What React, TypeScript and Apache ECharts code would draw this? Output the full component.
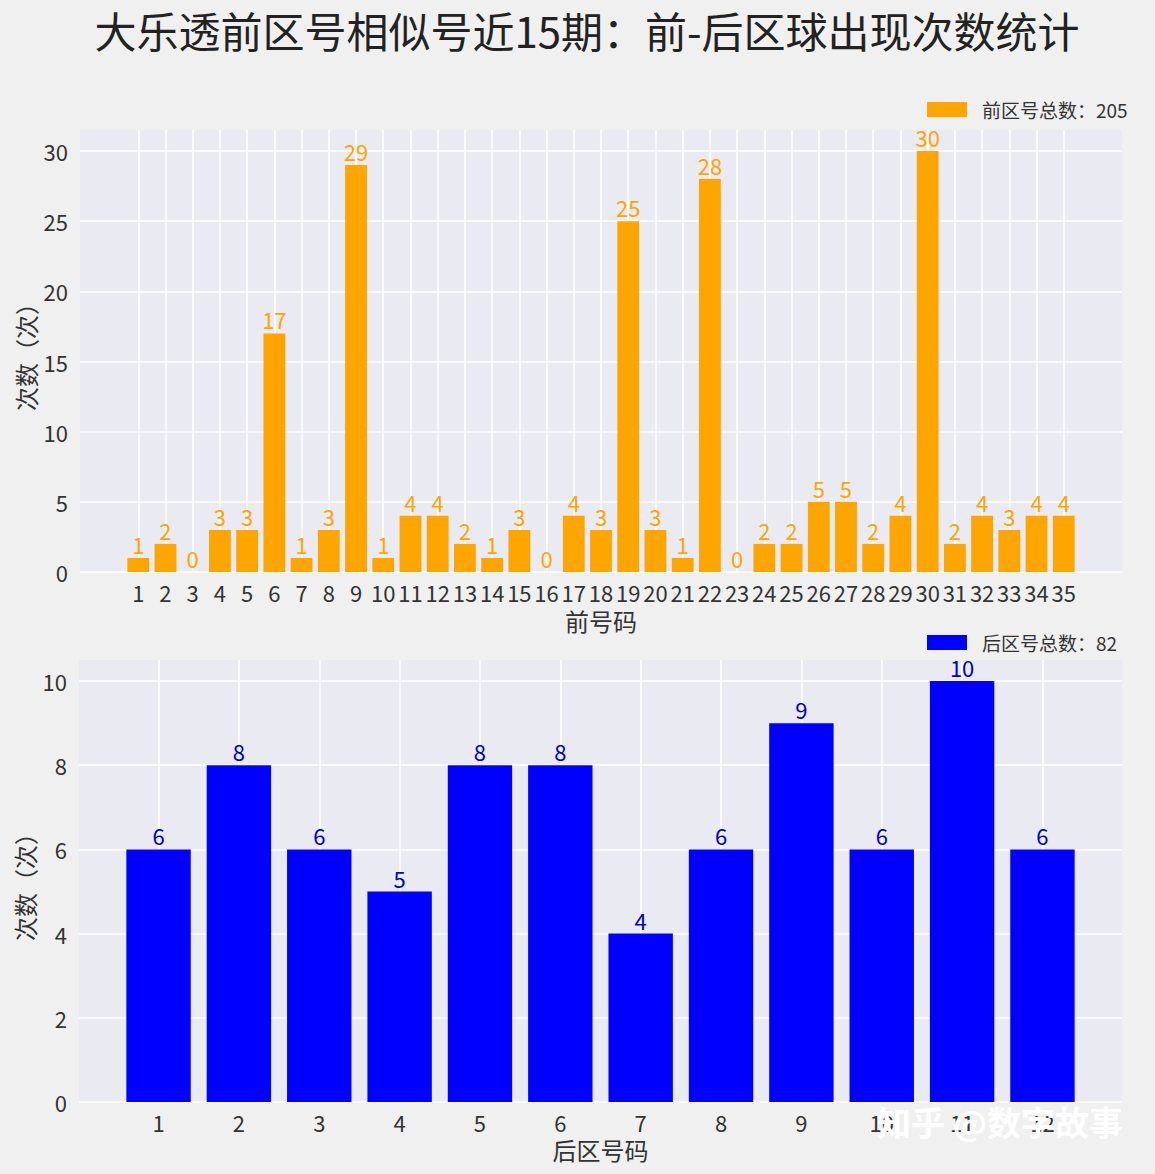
import React, { useEffect, useRef } from "react";
import * as echarts from "echarts";

const frontNumbers = Array.from({ length: 35 }, (_, i) => i + 1);
const frontCounts = [1, 2, 0, 3, 3, 17, 1, 3, 29, 1, 4, 4, 2, 1, 3, 0, 4, 3, 25, 3, 1, 28, 0, 2, 2, 5, 5, 2, 4, 30, 2, 4, 3, 4, 4];
const backNumbers = Array.from({ length: 12 }, (_, i) => i + 1);
const backCounts = [6, 8, 6, 5, 8, 8, 4, 6, 9, 6, 10, 6];
const frontYTicks = [0, 5, 10, 15, 20, 25, 30];
const backYTicks = [0, 2, 4, 6, 8, 10];

const FONT = "'Noto Sans CJK SC', 'Noto Sans', sans-serif";
const TEXT = "#333333";

export default function App() {
  const ref = useRef<HTMLDivElement>(null);
  useEffect(() => {
    if (!ref.current) return;
    const chart = echarts.init(ref.current, undefined, { renderer: "svg" });
    const frontTotal = frontCounts.reduce((a, b) => a + b, 0);
    const backTotal = backCounts.reduce((a, b) => a + b, 0);
    const frontName = "前区号总数：" + frontTotal;
    const backName = "后区号总数：" + backTotal;
    const xLabel = { fontSize: 22, color: TEXT, fontFamily: FONT, margin: 9 };
    const yLabel = { fontSize: 22, color: TEXT, fontFamily: FONT, margin: 12 };
    const split = { show: true, lineStyle: { color: "#ffffff", width: 1.5 } };
    chart.setOption({
      animation: false,
      backgroundColor: "#f0f0f0",
      textStyle: { fontFamily: FONT },
      title: {
        text: "大乐透前区号相似号近15期：前-后区球出现次数统计",
        left: 582,
        textAlign: "center",
        top: 3,
        textStyle: { fontSize: 42, fontWeight: "normal", color: "#222222", fontFamily: FONT },
      },
      legend: [
        {
          left: 922,
          top: 95,
          icon: "rect",
          itemWidth: 40,
          itemHeight: 15,
          data: [frontName],
          textStyle: { fontSize: 19, color: TEXT, fontFamily: FONT, padding: [0, 0, 0, 10] },
        },
        {
          left: 922,
          top: 628,
          icon: "rect",
          itemWidth: 40,
          itemHeight: 15,
          data: [backName],
          textStyle: { fontSize: 19, color: TEXT, fontFamily: FONT, padding: [0, 0, 0, 10] },
        },
      ],
      grid: [
        { left: 80, right: 33, top: 130, height: 442, show: true, backgroundColor: "#eaeaf2", borderWidth: 0 },
        { left: 79, right: 33, top: 660, height: 442, show: true, backgroundColor: "#eaeaf2", borderWidth: 0 },
      ],
      xAxis: [
        {
          type: "value",
          gridIndex: 0,
          min: -1.14,
          max: 37.14,
          name: "前号码",
          nameLocation: "middle",
          nameGap: 36,
          nameTextStyle: { fontSize: 24, color: TEXT, fontFamily: FONT },
          axisLine: { show: false },
          axisTick: { show: false, customValues: frontNumbers },
          axisLabel: { ...xLabel, customValues: frontNumbers },
          splitLine: split,
        },
        {
          type: "value",
          gridIndex: 1,
          min: 0.01,
          max: 12.99,
          name: "后区号码",
          nameLocation: "middle",
          nameGap: 35,
          nameTextStyle: { fontSize: 24, color: TEXT, fontFamily: FONT },
          axisLine: { show: false },
          axisTick: { show: false, customValues: backNumbers },
          axisLabel: { ...xLabel, customValues: backNumbers },
          splitLine: split,
        },
      ],
      yAxis: [
        {
          type: "value",
          gridIndex: 0,
          min: 0,
          max: 31.5,
          name: "次数（次）",
          nameLocation: "middle",
          nameGap: 43,
          nameMoveOverlap: false,
          nameRotate: 90,
          nameTextStyle: { fontSize: 24, color: TEXT, fontFamily: FONT },
          axisLine: { show: false },
          axisTick: { show: false, customValues: frontYTicks },
          axisLabel: { ...yLabel, customValues: frontYTicks },
          splitLine: split,
        },
        {
          type: "value",
          gridIndex: 1,
          min: 0,
          max: 10.5,
          name: "次数（次）",
          nameLocation: "middle",
          nameGap: 43,
          nameMoveOverlap: false,
          nameRotate: 90,
          nameTextStyle: { fontSize: 24, color: TEXT, fontFamily: FONT },
          axisLine: { show: false },
          axisTick: { show: false, customValues: backYTicks },
          axisLabel: { ...yLabel, customValues: backYTicks },
          splitLine: split,
        },
      ],
      series: [
        {
          type: "bar",
          name: frontName,
          xAxisIndex: 0,
          yAxisIndex: 0,
          barWidth: 21.8,
          itemStyle: { color: "#ffa500" },
          data: frontNumbers.map((n, i) => [n, frontCounts[i]]),
          label: {
            show: true,
            position: "top",
            distance: 3,
            color: "#ffa500",
            fontSize: 22,
            fontFamily: FONT,
            formatter: (p: any) => String(p.value[1]),
          },
        },
        {
          type: "bar",
          name: backName,
          xAxisIndex: 1,
          yAxisIndex: 1,
          barWidth: 64.4,
          itemStyle: { color: "#0000ff" },
          data: backNumbers.map((n, i) => [n, backCounts[i]]),
          label: {
            show: true,
            position: "top",
            distance: 3,
            color: "#0000cd",
            fontSize: 22,
            fontFamily: FONT,
            formatter: (p: any) => String(p.value[1]),
          },
        },
      ],
      graphic: [
        {
          type: "text",
          left: 877,
          top: 1104,
          z: 100,
          style: {
            text: "知乎 @数字故事",
            fontSize: 34,
            fontWeight: "bold",
            fontFamily: FONT,
            fill: "#ffffff",
            shadowColor: "rgba(0,0,0,0.45)",
            shadowBlur: 2,
            shadowOffsetX: 2,
            shadowOffsetY: 2,
          },
        },
      ],
    });
    return () => chart.dispose();
  }, []);
  return (
    <div
      ref={ref}
      style={{ position: "fixed", left: 0, top: 0, width: 1155, height: 1174 }}
    />
  );
}
